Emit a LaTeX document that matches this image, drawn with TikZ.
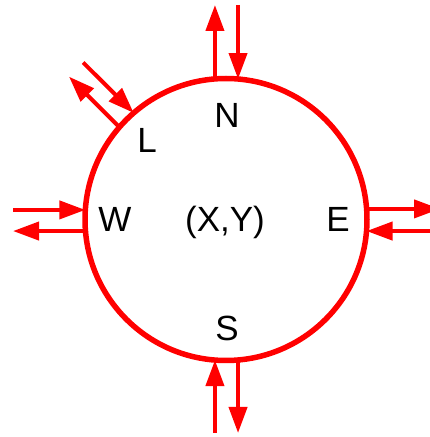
\documentclass[tikz,border=0pt]{standalone}
\usepackage{fontspec}
\setmainfont{Liberation Sans}
\usetikzlibrary{arrows.meta,calc}

\begin{document}
\begin{tikzpicture}[
    x=1pt, y=1pt,
    ring/.style={
        draw=red,
        line width=5.5pt,
        circle,
        minimum size=282pt,
        inner sep=0pt,
        outer sep=0pt
    },
    lbl/.style={font=\fontsize{35}{42}\selectfont, anchor=base, inner sep=0pt},
    arrow/.style={-{Triangle[length=26pt, width=18pt]}, draw=red, line width=4pt}
]
\useasboundingbox (0,0) rectangle (430,437);

% ============================================================
% KOMORKA
% ============================================================
\node[ring] (cell) at (226,217.5) {};

\node[lbl] (xy) at (225,205) {(X,Y)};
\node[lbl] (lblN) at (227,309) {N};
\node[lbl] (lblS) at (227,96) {S};
\node[lbl] (lblW) at (115,205) {W};
\node[lbl] (lblE) at (338,205) {E};
\node[lbl] (lblL) at (147,284) {L};

% ============================================================
% PUNKTY NA OKREGU I WOLNE KONCE
% ============================================================
\coordinate (nA) at ($(cell.center)+(94.5:141)$);
\coordinate (nB) at ($(cell.center)+(85.1:141)$);
\coordinate (sA) at ($(cell.center)+(265.5:141)$);
\coordinate (sB) at ($(cell.center)+(274.9:141)$);
\coordinate (wA) at ($(cell.center)+(176.1:141)$);
\coordinate (wB) at ($(cell.center)+(184.7:141)$);
\coordinate (eA) at ($(cell.center)+(4.3:141)$);
\coordinate (eB) at ($(cell.center)+(-4.7:141)$);
\coordinate (lA) at ($(cell.center)+(139.1:141)$);
\coordinate (lB) at ($(cell.center)+(130.9:141)$);

\coordinate (nOut) at (nA |- 0,432);
\coordinate (nIn) at (nB |- 0,432);
\coordinate (sIn) at (sA |- 0,4);
\coordinate (sOut) at (sB |- 0,4);
\coordinate (wIn) at (13,0 |- wA);
\coordinate (wOut) at (13,0 |- wB);
\coordinate (eOut) at (440,0 |- eA);
\coordinate (eIn) at (432,0 |- eB);
\coordinate (lOut) at ($(cell.center)+(135:212)+(225:10)$);
\coordinate (lIn) at ($(cell.center)+(135:212)+(45:10)$);

% ============================================================
% STRZALKI
% ============================================================
\draw[arrow] (nA) -- (nOut);
\draw[arrow] (nIn) -- (nB);
\draw[arrow] (sIn) -- (sA);
\draw[arrow] (sB) -- (sOut);
\draw[arrow] (wIn) -- (wA);
\draw[arrow] (wB) -- (wOut);
\draw[arrow] (eA) -- (eOut);
\draw[arrow] (eIn) -- (eB);
\draw[arrow] (lA) -- (lOut);
\draw[arrow] (lIn) -- (lB);

\end{tikzpicture}
\end{document}
